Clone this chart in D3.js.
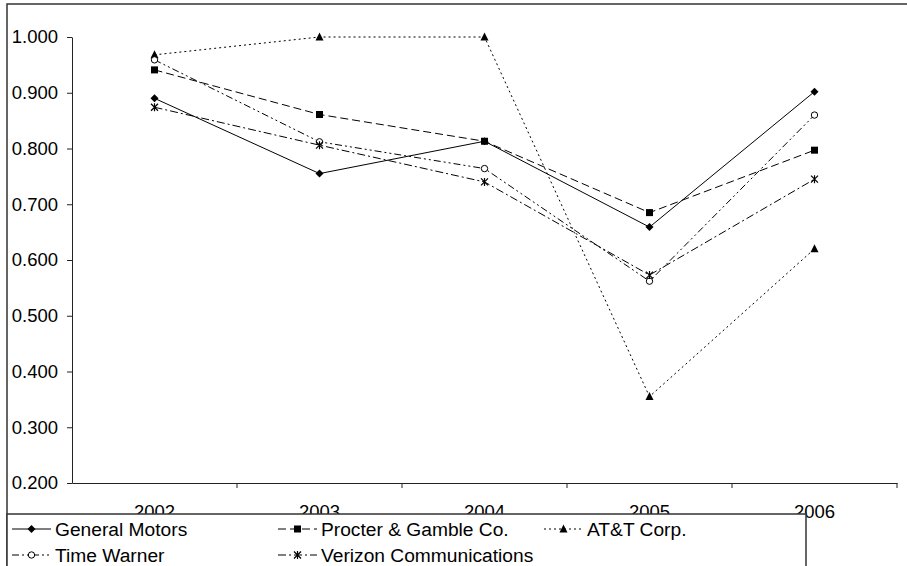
<!DOCTYPE html>
<html>
<head>
<meta charset="utf-8">
<script src="https://cdn.jsdelivr.net/npm/d3@7"></script>
<style>
  body { margin: 0; background: #fff; }
  svg { display: block; font-family: "Liberation Sans", Arial, sans-serif; }
</style>
</head>
<body>
<svg id="chart" width="907" height="566"></svg>
<script>
const years = ['2002', '2003', '2004', '2005', '2006'];
const seriesNames = ['General Motors', 'Procter & Gamble Co.', 'AT&T Corp.', 'Time Warner', 'Verizon Communications'];
const generalMotors = [0.890, 0.755, 0.813, 0.659, 0.902];
const procterGamble = [0.941, 0.861, 0.813, 0.685, 0.797];
const attCorp = [0.968, 1.000, 1.000, 0.355, 0.620];
const timeWarner = [0.959, 0.812, 0.764, 0.562, 0.860];
const verizon = [0.874, 0.806, 0.740, 0.573, 0.745];
const yTicks = [0.2, 0.3, 0.4, 0.5, 0.6, 0.7, 0.8, 0.9, 1.0];

const values = [generalMotors, procterGamble, attCorp, timeWarner, verizon];
const dashes = [null, '8,4', '2,3', '7,3,2,3,2,3', '8,3,2,3'];
const shapes = ['diamond', 'square', 'triangle', 'circle', 'star'];

const svg = d3.select('#chart');

// outer frame
svg.append('rect')
  .attr('x', 7).attr('y', 4)
  .attr('width', 920).attr('height', 600)
  .attr('fill', 'none').attr('stroke', '#333').attr('stroke-width', 1.5);

const plotLeft = 72, plotRight = 897, plotTop = 37, plotBottom = 483;

const x = d3.scaleBand().domain(years).range([plotLeft, plotRight]);
const y = d3.scaleLinear().domain([0.2, 1.0]).range([plotBottom, plotTop]);

// y axis
const yAxis = svg.append('g')
  .attr('transform', `translate(${plotLeft},0)`)
  .call(d3.axisLeft(y).tickValues(yTicks).tickFormat(d3.format('.3f')).tickSize(5).tickPadding(9).tickSizeOuter(0));
yAxis.select('.domain').attr('stroke', '#222');
yAxis.selectAll('.tick line').attr('stroke', '#222');
yAxis.selectAll('text').attr('font-size', 18.5).attr('fill', '#000')
  .attr('font-family', '"Liberation Sans", Arial, sans-serif');

// x axis (labels sit partly under the legend box, as in the source)
const xAxis = svg.append('g')
  .attr('transform', `translate(0,${plotBottom})`)
  .call(d3.axisBottom(x).tickSize(0).tickPadding(22).tickSizeOuter(0));
xAxis.select('.domain').attr('stroke', '#222');
xAxis.selectAll('text').attr('font-size', 18.5).attr('fill', '#000')
  .attr('font-family', '"Liberation Sans", Arial, sans-serif');
// boundary ticks between categories
xAxis.selectAll('.btick')
  .data(years)
  .enter().append('line')
  .attr('x1', (d, i) => x(d) + x.step())
  .attr('x2', (d, i) => x(d) + x.step())
  .attr('y1', 0).attr('y2', 5)
  .attr('stroke', '#222');

const cx = d => x(d) + x.bandwidth() / 2;

function marker(g, shape, px, py) {
  if (shape === 'diamond') {
    g.append('path').attr('d', `M${px},${py - 4}L${px + 4},${py}L${px},${py + 4}L${px - 4},${py}Z`).attr('fill', '#000');
  } else if (shape === 'square') {
    g.append('rect').attr('x', px - 3.5).attr('y', py - 3.5).attr('width', 7).attr('height', 7).attr('fill', '#000');
  } else if (shape === 'triangle') {
    g.append('path').attr('d', `M${px},${py - 4.5}L${px + 4},${py + 3.5}L${px - 4},${py + 3.5}Z`).attr('fill', '#000');
  } else if (shape === 'circle') {
    g.append('circle').attr('cx', px).attr('cy', py).attr('r', 3.2).attr('fill', '#fff').attr('stroke', '#000').attr('stroke-width', 1);
  } else if (shape === 'star') {
    // asterisk: x with a vertical stroke
    g.append('path').attr('d', `M${px - 3.5},${py - 3.5}L${px + 3.5},${py + 3.5}M${px + 3.5},${py - 3.5}L${px - 3.5},${py + 3.5}M${px},${py - 4}L${px},${py + 4}`)
      .attr('stroke', '#000').attr('stroke-width', 1.2).attr('fill', 'none');
  }
}

const line = d3.line().x((d, i) => cx(years[i])).y(d => y(d));

values.forEach((vals, s) => {
  const g = svg.append('g');
  g.append('path').attr('d', line(vals))
    .attr('fill', 'none').attr('stroke', '#000').attr('stroke-width', 1)
    .attr('stroke-dasharray', dashes[s]);
  vals.forEach((v, i) => marker(g, shapes[s], cx(years[i]), y(v)));
});

// legend
const legend = svg.append('g');
legend.append('rect')
  .attr('x', 7).attr('y', 514).attr('width', 799).attr('height', 80)
  .attr('fill', '#fff').attr('stroke', '#333').attr('stroke-width', 1.5);

seriesNames.forEach((name, i) => {
  const col = i % 3, row = Math.floor(i / 3);
  const lx = 12 + col * 266, ly = 529 + row * 26;
  const item = legend.append('g');
  item.append('line').attr('x1', lx).attr('x2', lx + 39).attr('y1', ly).attr('y2', ly)
    .attr('stroke', '#000').attr('stroke-width', 1).attr('stroke-dasharray', dashes[i]);
  marker(item, shapes[i], lx + 19.5, ly);
  item.append('text').attr('x', lx + 43).attr('y', ly).attr('dy', '0.35em')
    .attr('font-size', 19.2).text(name);
});
</script>
</body>
</html>
